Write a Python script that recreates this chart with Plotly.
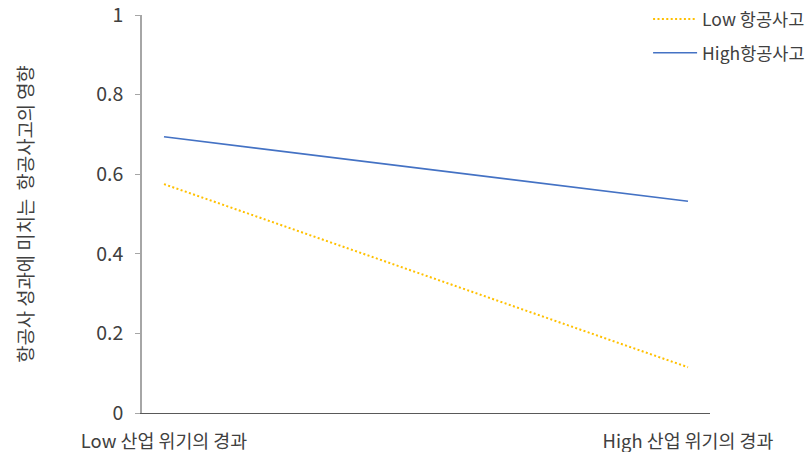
import plotly.graph_objects as go

# Interaction plot: effect of air accidents on airline performance
categories = ["Low 산업 위기의 경과", "High 산업 위기의 경과"]
series_names = ["Low 항공사고", "High항공사고"]
low_accident = [0.575, 0.115]
high_accident = [0.694, 0.532]
y_ticks = [0, 0.2, 0.4, 0.6, 0.8, 1]
y_tick_labels = ["0", "0.2", "0.4", "0.6", "0.8", "1"]
y_title = "항공사 성과에 미치는  항공사고의 영향"

FONT = "Noto Sans CJK KR"
TEXT = "#404040"

x_pos = list(range(len(categories)))

fig = go.Figure()
fig.add_trace(go.Scatter(
    x=x_pos, y=low_accident, mode="lines", name=series_names[0],
    line=dict(color="#FFC000", width=2, dash="2px,2.4px"),
    legendgroup="a",
))
fig.add_trace(go.Scatter(
    x=x_pos, y=high_accident, mode="lines", name=series_names[1],
    line=dict(color="#4472C4", width=1.6),
    legendgroup="b",
))

pad = 22 / 524
fig.update_layout(
    width=809, height=452,
    margin=dict(l=142, r=99, t=14.5, b=39, autoexpand=False),
    paper_bgcolor="white", plot_bgcolor="white",
    font=dict(family=FONT, size=16, color=TEXT),
    showlegend=True,
    legend=dict(
        x=0.891, y=1.035, xanchor="left", yanchor="top",
        font=dict(family=FONT, size=17.5, color=TEXT),
        bgcolor="rgba(0,0,0,0)", tracegroupgap=8,
        traceorder="grouped", itemwidth=44,
    ),
    xaxis=dict(
        range=[-pad, 1 + pad], automargin=False,
        tickmode="array", tickvals=x_pos, ticktext=categories,
        showgrid=False, zeroline=False,
        showline=True, linecolor="#595959", linewidth=1,
        ticks="", ticklabelstandoff=12, ticklabeloverflow="allow",
        tickfont=dict(family=FONT, size=18.4, color=TEXT),
    ),
    yaxis=dict(
        range=[0, 1], automargin=False,
        tickmode="array", tickvals=y_ticks, ticktext=y_tick_labels,
        showgrid=False, zeroline=False,
        showline=True, linecolor="#a6a6a6", linewidth=1.5,
        ticks="outside", ticklen=5, tickcolor="#a6a6a6", tickwidth=1,
        ticklabelstandoff=8, ticklabeloverflow="allow",
        tickfont=dict(family=FONT, size=19.5, color=TEXT),
        title=dict(text=y_title, standoff=58,
                   font=dict(family=FONT, size=18.8, color=TEXT)),
    ),
)

fig.write_html("out.html")
